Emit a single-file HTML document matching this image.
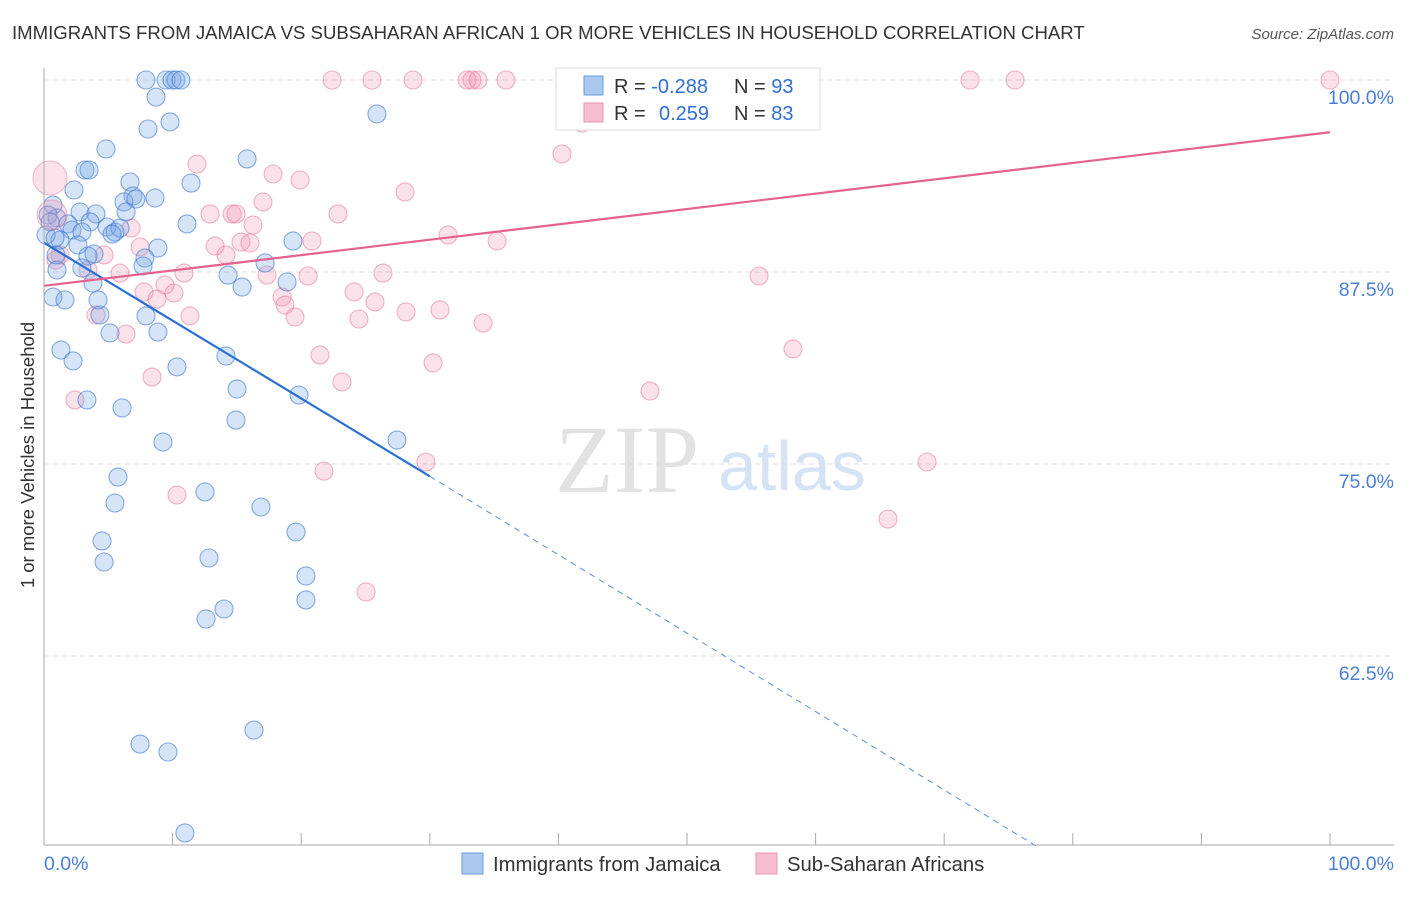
<!DOCTYPE html>
<html><head><meta charset="utf-8"><style>
body{margin:0;background:#fff;font-family:"Liberation Sans",sans-serif;}
</style></head><body>
<svg id="c" width="1406" height="892" xmlns="http://www.w3.org/2000/svg" style="font-family:'Liberation Sans',sans-serif">
<text x="12" y="39" font-size="18.6" fill="#333">IMMIGRANTS FROM JAMAICA VS SUBSAHARAN AFRICAN 1 OR MORE VEHICLES IN HOUSEHOLD CORRELATION CHART</text>
<text x="1394" y="39" font-size="15" fill="#555" text-anchor="end" font-style="italic">Source: ZipAtlas.com</text>
<text x="34" y="455" font-size="18.5" fill="#333" text-anchor="middle" transform="rotate(-90 34 455)">1 or more Vehicles in Household</text>
<text x="555" y="492" font-size="96" fill="#e2e2e2" font-family="Liberation Serif">ZIP</text>
<text x="718" y="490" font-size="70" fill="#d6e3f5">atlas</text>
<g id="grid"></g><g id="pts"></g><g id="trend"></g>
<line x1="44" y1="68" x2="44" y2="845" stroke="#aaa"/>
<line x1="44" y1="845" x2="1394" y2="845" stroke="#aaa"/>
<text x="44" y="870" font-size="19.5" fill="#4a7fd6">0.0%</text>
<text x="1394" y="870" font-size="19.5" fill="#4a7fd6" text-anchor="end">100.0%</text>
<g>
<rect x="556" y="68" width="264" height="62" fill="#fff" stroke="#ddd"/>
<rect x="584" y="76" width="19" height="19" fill="#aac8f0" stroke="#6a9be0"/>
<rect x="584" y="103" width="19" height="19" fill="#f6bfd0" stroke="#ec93b0"/>
<text x="614" y="93" font-size="20" fill="#333">R = <tspan fill="#2f6fd6">-0.288</tspan></text>
<text x="734" y="93" font-size="20" fill="#333">N = <tspan fill="#2f6fd6">93</tspan></text>
<text x="614" y="120" font-size="20" fill="#333">R = <tspan fill="#2f6fd6" x="659">0.259</tspan></text>
<text x="734" y="120" font-size="20" fill="#333">N = <tspan fill="#2f6fd6">83</tspan></text>
</g>
<g>
<rect x="462" y="853" width="21" height="21" fill="#aac8f0" stroke="#6a9be0"/>
<text x="493" y="871" font-size="20.3" fill="#333">Immigrants from Jamaica</text>
<rect x="756" y="853" width="21" height="21" fill="#f6bfd0" stroke="#ec93b0"/>
<text x="787" y="871" font-size="20.3" fill="#333">Sub-Saharan Africans</text>
</g>
</svg>
<script>
const yTicks=[100,87.5,75,62.5];
const yTickLabels=["100.0%","87.5%","75.0%","62.5%"];
const xTicks=[0,10,20,30,40,50,60,70,80,90,100];
const bluePx=[[146,80],[166,80],[172,80],[176,80],[181,80],[156,97],[377,114],[170,122],[148,129],[106,149],[247,159],[85,170],[89,170],[191,183],[130,182],[74,190],[133,196],[155,198],[124,202],[136,199],[53,205],[80,212],[96,214],[126,212],[57,218],[68,224],[90,222],[107,227],[115,232],[120,228],[187,224],[72,230],[82,232],[112,234],[60,240],[78,245],[158,248],[293,241],[56,255],[94,254],[145,258],[88,256],[265,263],[57,270],[82,268],[143,266],[228,275],[287,282],[93,283],[242,287],[53,297],[65,300],[98,300],[100,315],[146,316],[158,332],[110,333],[61,350],[226,356],[73,361],[177,367],[237,389],[299,395],[87,400],[122,408],[236,420],[397,440],[163,442],[118,477],[205,492],[115,503],[261,507],[296,532],[102,541],[209,558],[104,562],[306,576],[306,600],[224,609],[206,619],[254,730],[140,744],[168,752],[185,833],[48,215],[50,222],[46,235],[55,238]];
const pinkPx=[[332,80],[372,80],[413,80],[467,80],[472,80],[478,80],[506,80],[575,80],[716,80],[804,80],[970,80],[1015,80],[1330,80],[582,123],[562,154],[197,164],[273,174],[300,180],[405,192],[263,202],[210,214],[232,214],[236,214],[338,214],[253,225],[131,228],[448,235],[497,241],[241,242],[312,241],[215,246],[140,247],[250,243],[104,255],[226,255],[60,255],[88,270],[120,273],[184,273],[267,275],[308,276],[383,273],[759,276],[165,285],[144,292],[174,293],[282,297],[354,292],[157,299],[375,302],[285,305],[406,312],[440,310],[96,315],[190,316],[295,317],[359,319],[483,323],[126,334],[793,349],[320,355],[433,363],[152,377],[342,382],[650,391],[75,400],[324,471],[426,462],[927,462],[177,495],[888,519],[366,592],[56,260]];
const blueX=bluePx.map(p=>+((p[0]-44)/12.86).toFixed(2)), blueY=bluePx.map(p=>+(100-(p[1]-80)/15.36).toFixed(2));
const pinkX=pinkPx.map(p=>+((p[0]-44)/12.86).toFixed(2)), pinkY=pinkPx.map(p=>+(100-(p[1]-80)/15.36).toFixed(2));
const blueTrend=[[0,89.4],[30,74.2],[77.4,50]];
const pinkTrend=[[0,86.6],[100,96.6]];
const X=v=>44+v*12.86, Y=v=>80+(100-v)*15.36;
const NS="http://www.w3.org/2000/svg";
function mk(t,a,p){const e=document.createElementNS(NS,t);for(const k in a)e.setAttribute(k,a[k]);p.appendChild(e);return e;}
const g=document.getElementById('grid');
yTicks.forEach((t,i)=>{const l=mk('line',{x1:44,x2:1394,y1:Y(t),y2:Y(t),stroke:'#ddd','stroke-dasharray':'5,4'},g);


const tx=mk('text',{x:1394,y:Y(t)+24,'font-size':19.5,fill:'#4a7fd6','text-anchor':'end'},g);tx.textContent=yTickLabels[i];

});
xTicks.forEach(t=>{const l=mk('line',{x1:X(t),x2:X(t),y1:845,y2:833,stroke:'#aaa'},g);

});
const pg=document.getElementById('pts');
pinkX.forEach((x,i)=>{const c=mk('circle',{cx:X(x),cy:Y(pinkY[i]),r:9,fill:'rgba(240,140,170,0.25)',stroke:'rgba(230,120,155,0.55)','stroke-width':1.1},pg);

});
blueX.forEach((x,i)=>{const c=mk('circle',{cx:X(x),cy:Y(blueY[i]),r:9,fill:'rgba(120,165,230,0.3)',stroke:'rgba(60,120,210,0.6)','stroke-width':1.1},pg);

});
[[50,178,17],[52,215,15]].forEach(p=>{const c=mk('circle',{cx:p[0],cy:p[1],r:p[2],fill:'rgba(240,140,170,0.25)',stroke:'rgba(230,120,155,0.5)'},pg);

});
const tg=document.getElementById('trend');
let l=mk('line',{x1:X(blueTrend[0][0]),y1:Y(blueTrend[0][1]),x2:X(blueTrend[1][0]),y2:Y(blueTrend[1][1]),stroke:'#2a6fd6','stroke-width':2.2},tg);


l=mk('line',{x1:X(blueTrend[1][0]),y1:Y(blueTrend[1][1]),x2:X(blueTrend[2][0]),y2:Y(blueTrend[2][1]),stroke:'#5a8fdf','stroke-width':1,'stroke-dasharray':'6,5'},tg);


l=mk('line',{x1:X(pinkTrend[0][0]),y1:Y(pinkTrend[0][1]),x2:X(pinkTrend[1][0]),y2:Y(pinkTrend[1][1]),stroke:'#e5628e','stroke-width':2.2},tg);


</script>
</body></html>
